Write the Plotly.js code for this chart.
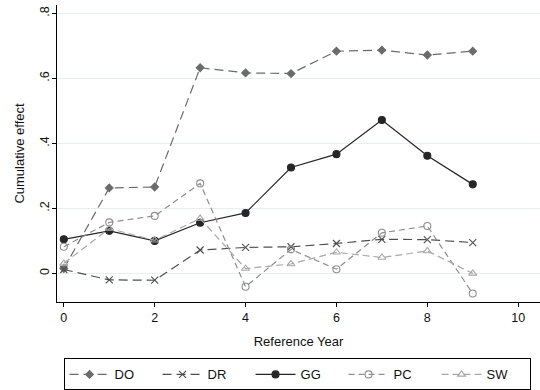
<!DOCTYPE html>
<html>
<head>
<meta charset="utf-8">
<script src="https://cdn.plot.ly/plotly-3.0.1.min.js"></script>
<style>
  html, body { margin: 0; padding: 0; background: #fff; overflow: hidden; }
  #chart { width: 540px; height: 390px; }
</style>
</head>
<body>
<div id="chart"></div>
<script>
// Reference years on the x axis
const years = [0, 1, 2, 3, 4, 5, 6, 7, 8, 9];

// Cumulative effect by group
const DO = [0.015, 0.263, 0.266, 0.633, 0.617, 0.615, 0.684, 0.687, 0.672, 0.684];
const DR = [0.012, -0.020, -0.021, 0.072, 0.080, 0.082, 0.092, 0.105, 0.104, 0.095];
const GG = [0.105, 0.131, 0.100, 0.156, 0.186, 0.326, 0.367, 0.472, 0.362, 0.274];
const PC = [0.082, 0.157, 0.177, 0.277, -0.041, 0.074, 0.013, 0.125, 0.146, -0.062];
const SW = [0.031, 0.138, 0.102, 0.169, 0.015, 0.029, 0.065, 0.049, 0.069, 0.000];

// Axis tick labels
const xTicks = [0, 2, 4, 6, 8, 10];
const yTickVals = [0, 0.2, 0.4, 0.6, 0.8];
const yTickText = ['0', '.2', '.4', '.6', '.8'];

function series(name, y, color, dash, symbol, size, width) {
  return {
    type: 'scatter', mode: 'lines+markers', name: name,
    x: years, y: y,
    line: { color: color, dash: dash, width: width || 1.2 },
    marker: { symbol: symbol, size: size, color: color,
              line: { color: color, width: 1.1 } }
  };
}

const traces = [
  series('DO', DO, '#6b6b6b', '9px,5px', 'diamond', 6),
  series('DR', DR, '#4f4f4f', '9px,5px', 'x-thin', 7),
  series('GG', GG, '#262626', 'solid', 'circle', 7),
  series('PC', PC, '#8e8e8e', '6px,4px', 'circle-open', 7),
  series('SW', SW, '#a8a8a8', '7px,4px', 'triangle-up-open', 7)
];

const font = { family: 'Liberation Sans, Arial, sans-serif', color: '#111', size: 12 };

const layout = {
  width: 540, height: 390,
  margin: { l: 57, r: 0, t: 5, b: 88, autoexpand: false },
  paper_bgcolor: '#fff', plot_bgcolor: '#fff',
  font: font,
  showlegend: true,
  xaxis: {
    range: [-0.15, 10.48],
    tickvals: xTicks, ticktext: xTicks.map(String),
    showgrid: false, zeroline: false,
    showline: true, linecolor: '#000', linewidth: 1,
    ticks: 'outside', ticklen: 4, tickcolor: '#000',
    tickfont: { size: 12.5 },
    title: { text: 'Reference Year', font: { size: 13 }, standoff: 12 },
    automargin: false
  },
  yaxis: {
    range: [-0.088, 0.826],
    tickvals: yTickVals, ticktext: yTickText,
    tickangle: -90,
    showgrid: true, gridcolor: '#e6eff1', gridwidth: 1,
    zeroline: false,
    showline: true, linecolor: '#000', linewidth: 1,
    ticks: 'outside', ticklen: 4, tickcolor: '#000',
    tickfont: { size: 12.5 },
    ticklabelstandoff: -2,
    title: { text: 'Cumulative effect', font: { size: 13 }, standoff: 10 },
    automargin: false
  },
  legend: {
    orientation: 'h',
    x: 0.497, xanchor: 'center',
    y: -0.19, yanchor: 'top',
    bordercolor: '#000', borderwidth: 1,
    font: { size: 13 },
    entrywidth: 38, entrywidthmode: 'pixels',
    itemwidth: 40,
    tracegroupgap: 0
  }
};

Plotly.newPlot('chart', traces, layout, { displayModeBar: false, staticPlot: true });
</script>
</body>
</html>
